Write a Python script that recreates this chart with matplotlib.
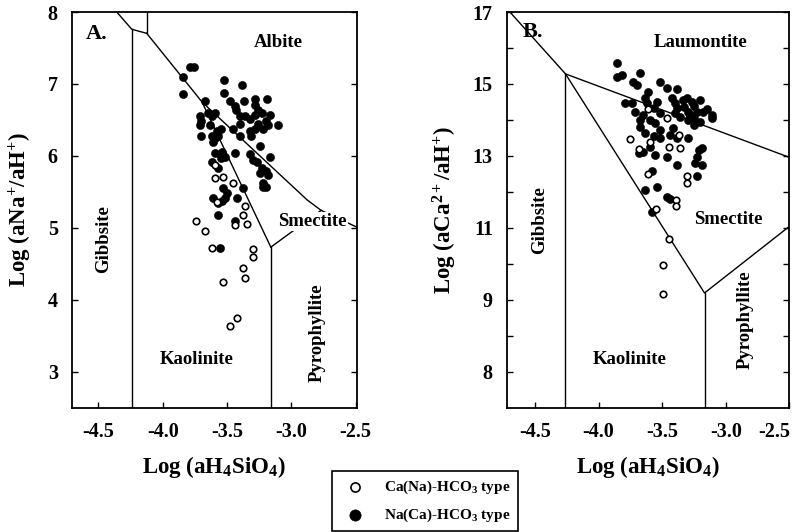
import matplotlib
matplotlib.use('Agg')
import matplotlib.pyplot as plt
from matplotlib.transforms import ScaledTranslation

plt.rcParams['font.family'] = ['Liberation Serif', 'DejaVu Serif']
plt.rcParams['font.weight'] = 'bold'
plt.rcParams['axes.labelweight'] = 'bold'
plt.rcParams['mathtext.fontset'] = 'custom'
plt.rcParams['mathtext.rm'] = 'Liberation Serif:bold'
plt.rcParams['mathtext.bf'] = 'Liberation Serif:bold'
plt.rcParams['mathtext.it'] = 'Liberation Serif:bold'
plt.rcParams['mathtext.default'] = 'bf'

# ---- panel A data: log(aNa+/aH+) vs log(aH4SiO4)
a_fill_x = [-3.79, -3.76, -3.84, -3.84, -3.52, -3.385, -3.52, -3.48, -3.44, -3.43,
            -3.37, -3.28, -3.19, -3.28, -3.67, -3.71, -3.70, -3.645, -3.62, -3.59,
            -3.63, -3.71, -3.70, -3.40, -3.36, -3.32, -3.28, -3.26, -3.23, -3.165,
            -3.20, -3.18, -3.26, -3.28, -3.22, -3.10, -3.40, -3.45, -3.55, -3.58,
            -3.32, -3.31, -3.62, -3.59, -3.57, -3.61, -3.40, -3.24, -3.59, -3.54,
            -3.515, -3.55, -3.44, -3.32, -3.295, -3.27, -3.165, -3.62, -3.57, -3.23,
            -3.20, -3.18, -3.24, -3.22, -3.22, -3.20, -3.528, -3.502, -3.515, -3.54,
            -3.606, -3.567, -3.424, -3.372, -3.567, -3.437, -3.554]
a_fill_y = [7.24, 7.24, 7.09, 6.86, 7.05, 6.99, 6.87, 6.77, 6.69, 6.64,
            6.77, 6.79, 6.79, 6.71, 6.77, 6.55, 6.48, 6.59, 6.55, 6.59,
            6.43, 6.43, 6.27, 6.55, 6.55, 6.52, 6.57, 6.64, 6.59, 6.57,
            6.48, 6.43, 6.45, 6.38, 6.38, 6.43, 6.45, 6.38, 6.38, 6.34,
            6.34, 6.27, 6.27, 6.25, 6.27, 6.20, 6.27, 6.14, 6.04, 6.06,
            5.99, 5.97, 6.04, 6.02, 5.94, 5.92, 5.99, 5.91, 5.83, 5.83,
            5.79, 5.74, 5.76, 5.62, 5.57, 5.57, 5.55, 5.48, 5.41, 5.37,
            5.41, 5.34, 5.41, 5.55, 5.18, 5.09, 4.72]
a_open_x = [-3.593, -3.593, -3.528, -3.45, -3.359, -3.372, -3.346, -3.437, -3.743,
            -3.670, -3.618, -3.295, -3.295, -3.372, -3.359, -3.528, -3.424, -3.476, -3.58]
a_open_y = [5.88, 5.69, 5.71, 5.62, 5.31, 5.18, 5.06, 5.04, 5.10,
            4.96, 4.72, 4.70, 4.59, 4.44, 4.31, 4.25, 3.75, 3.64, 5.36]

# stability field boundaries (x list, y list)
a_bounds = [
    ([-4.357, -4.24, -4.124], [8.0, 7.76, 7.704]),
    ([-4.124, -4.124], [7.704, 8.0]),
    ([-4.24, -4.24], [7.76, 2.5]),
    ([-4.124, -3.694, -2.877, -2.768, -2.49], [7.704, 6.75, 5.389, 5.243, 5.01]),
    ([-3.694, -3.159], [6.75, 4.732]),
    ([-3.159, -2.768], [4.732, 5.243]),
    ([-3.159, -3.159], [4.732, 2.5]),
]

# ---- panel B data: log(aCa2+/aH+) vs log(aH4SiO4)
b_fill_x = [-3.857, -3.857, -3.817, -3.673, -3.726, -3.699, -3.516, -3.463, -3.384, -3.608,
            -3.634, -3.621, -3.791, -3.739, -3.542, -3.568, -3.713, -3.647, -3.673, -3.594,
            -3.516, -3.398, -3.384, -3.306, -3.266, -3.201, -3.332, -3.293, -3.227, -3.175,
            -3.253, -3.201, -3.109, -3.109, -3.398, -3.358, -3.293, -3.253, -3.673, -3.555,
            -3.516, -3.634, -3.568, -3.411, -3.437, -3.516, -3.384, -3.293, -3.594, -3.686,
            -3.647, -3.555, -3.463, -3.214, -3.188, -3.227, -3.384, -3.240, -3.188, -3.227,
            -3.581, -3.634, -3.542, -3.463, -3.437, -3.581, -3.34, -3.25, -3.15, -3.28, -3.42]
b_fill_y = [15.57, 15.20, 15.25, 15.31, 15.06, 14.97, 15.06, 14.88, 14.85, 14.79,
            14.60, 14.46, 14.48, 14.46, 14.51, 14.32, 14.23, 14.14, 14.00, 14.00,
            14.19, 14.46, 14.32, 14.60, 14.51, 14.56, 14.37, 14.23, 14.23, 14.23,
            14.05, 13.95, 14.14, 14.05, 14.19, 14.09, 14.00, 13.86, 13.81, 13.91,
            13.72, 13.63, 13.54, 13.77, 13.58, 13.49, 13.49, 13.49, 13.26, 13.07,
            13.12, 13.03, 12.98, 13.17, 13.21, 12.98, 12.75, 12.80, 12.75, 12.44,
            12.59, 12.06, 12.13, 11.87, 11.80, 11.45, 14.55, 14.40, 14.30, 14.15, 14.60]
b_open_x = [-3.463, -3.608, -3.752, -3.594, -3.371, -3.450, -3.358, -3.686, -3.615,
            -3.306, -3.306, -3.390, -3.390, -3.547, -3.445, -3.490, -3.490]
b_open_y = [14.05, 14.30, 13.46, 13.40, 13.58, 13.26, 13.21, 13.19, 12.50,
            12.44, 12.26, 11.78, 11.61, 11.52, 10.69, 9.97, 9.17]

b_bounds = [
    ([-4.697, -4.26, -2.5], [17.0, 15.28, 12.96]),
    ([-4.26, -4.26], [15.28, 6.0]),
    ([-4.26, -3.167, -2.5], [15.28, 9.19, 11.04]),
    ([-3.167, -3.167], [9.19, 6.0]),
]

x_ticks = [-4.5, -4.0, -3.5, -3.0, -2.5]
x_tick_labels = ['-4.5', '-4.0', '-3.5', '-3.0', '-2.5']
a_y_ticks = [3, 4, 5, 6, 7, 8]
b_y_ticks = [7, 8, 9, 10, 11, 12, 13, 14, 15, 16, 17]
b_y_tick_labels = ['8', '', '9', '', '11', '', '13', '', '15', '', '17']

legend_labels = ['Ca(Na)-HCO$_3$ type', 'Na(Ca)-HCO$_3$ type']

fig = plt.figure(figsize=(7.97, 5.32), dpi=100)
axA = fig.add_axes([0.0900, 0.2336, 0.3576, 0.7438])
axB = fig.add_axes([0.6358, 0.2336, 0.3546, 0.7438])

def style_axes(ax):
    for s in ax.spines.values():
        s.set_linewidth(1.3)
    ax.tick_params(direction='in', left=True, right=True, top=False, bottom=True,
                   length=4, width=1, labelsize=14.5, pad=10)
    ax.set_xticks(x_ticks)
    ax.set_xticklabels(x_tick_labels)
    ax.set_xlabel('Log (aH$_4$SiO$_4$)', fontsize=16.5, labelpad=9)
    for lab in ax.get_xticklabels() + ax.get_yticklabels():
        lab.set_fontweight('bold')

def draw_points(ax, ox, oy, fx, fy):
    so = ax.scatter(ox, oy, s=22, facecolors='white', edgecolors='black',
                    linewidths=1.2, zorder=4)
    sf = ax.scatter(fx, fy, s=34, c='black', edgecolors='black',
                    linewidths=0.4, zorder=3)
    return so, sf

text_kw = dict(fontsize=13.5, fontweight='bold', ha='center', va='center')

# panel A
for bx, by in a_bounds:
    axA.plot(bx, by, color='black', lw=1.0, zorder=2)
so, sf = draw_points(axA, a_open_x, a_open_y, a_fill_x, a_fill_y)
axA.set_xlim(-4.707, -2.491)
axA.set_ylim(2.5, 8.0)
axA.set_yticks(a_y_ticks)
style_axes(axA)
axA.set_ylabel('Log (aNa$^{+}$/aH$^{+}$)', fontsize=16.5, labelpad=10)
axA.text(-4.51, 7.70, 'A.', fontsize=16, fontweight='bold', ha='center', va='center')
axA.text(-3.10, 7.57, 'Albite', **text_kw)
axA.text(-2.833, 5.09, 'Smectite', zorder=5,
         bbox=dict(facecolor='white', edgecolor='none', pad=0.5), **text_kw)
axA.text(-4.46, 4.85, 'Gibbsite', rotation=90, **text_kw)
axA.text(-3.735, 3.17, 'Kaolinite', **text_kw)
axA.text(-2.80, 3.54, 'Pyrophyllite', rotation=90, **text_kw)

# panel B
for bx, by in b_bounds:
    axB.plot(bx, by, color='black', lw=1.0, zorder=2)
draw_points(axB, b_open_x, b_open_y, b_fill_x, b_fill_y)
axB.set_xlim(-4.722, -2.501)
axB.set_ylim(6.0, 17.0)
axB.set_yticks(b_y_ticks)
axB.set_yticklabels(b_y_tick_labels)
style_axes(axB)
axB.set_ylabel('Log (aCa$^{2+}$/aH$^{+}$)', fontsize=16.5, labelpad=10)
# last x label of panel B sits just inside the figure edge
last = axB.get_xticklabels()[-1]
last.set_transform(last.get_transform() + ScaledTranslation(-11 / 72, 0, fig.dpi_scale_trans))
axB.text(-4.513, 16.45, 'B.', fontsize=16, fontweight='bold', ha='center', va='center')
axB.text(-3.20, 16.15, 'Laumontite', **text_kw)
axB.text(-2.978, 11.22, 'Smectite', **text_kw)
axB.text(-4.46, 11.22, 'Gibbsite', rotation=90, **text_kw)
axB.text(-3.752, 7.33, 'Kaolinite', **text_kw)
axB.text(-2.846, 8.44, 'Pyrophyllite', rotation=90, **text_kw)

leg = fig.legend([so, sf], legend_labels, loc='upper left',
                 bbox_to_anchor=(332 / 797, 1 - 470.7 / 532), borderaxespad=0,
                 frameon=True, fancybox=False, edgecolor='black', framealpha=1,
                 fontsize=11, markerscale=1.4, labelspacing=0.7, handletextpad=0.9,
                 borderpad=0.5)
leg.get_frame().set_linewidth(1.2)

fig.savefig('out.png', dpi=100)
